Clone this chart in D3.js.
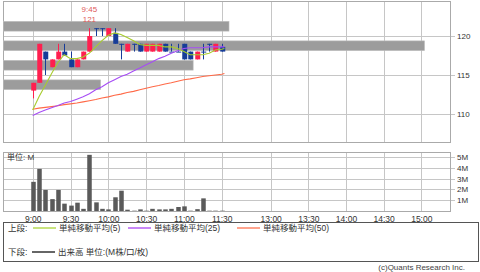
<!DOCTYPE html>
<html>
<head>
<meta charset="utf-8">
<script src="https://cdn.jsdelivr.net/npm/d3@7"></script>
<style>
body { margin: 0; background: #fff; }
svg { display: block; }
text { font-family: "Liberation Sans", Arial, "Noto Sans CJK JP", sans-serif; }
</style>
</head>
<body>
<div id="chart"></div>
<script>
// 5-minute bars, morning session
var bar_times = ['9:00','9:05','9:10','9:15','9:20','9:25','9:30','9:35','9:40','9:45',
  '9:50','9:55','10:00','10:05','10:10','10:15','10:20','10:25','10:30','10:35',
  '10:40','10:45','10:50','10:55','11:00','11:05','11:10','11:15','11:20','11:25','11:30']
var open  = [113,114,118,116,117,118,117,116,117,118,121,121,120,120.4,119,118,119,119,118,118,118,119,118,118,119,118,117,118,119,118,118.6]
var high  = [114,119,118,117,119,119,118,117,118,121,121,121,121,121,119,119,119,119,119,119,119,119,119,119,119,118,118,119,119,119,119]
var low   = [112,114,115,116,117,117.5,116,116,117,118,120,120,120,119,117,118,118,118,118,118,118,118,118,118,117,117,117,117,118,118,118]
var close = [114,119,117,117,118,117.5,116,117,118,120,121,121,121,119,119,119,119,118,119,119,119,118,118,118,117,117,118,118,119,119,118]
var volume = [2.7,3.9,1.95,1.1,1.95,0.68,0.5,0.77,0.2,5.2,0.8,0.2,0.15,1.27,1.88,0.12,0.03,0.15,0.03,0.2,
  0.15,0.15,0.2,0.37,0.43,0.03,0.17,1.17,0.03,0.03,0.03]

// moving averages (one extra point past the last bar)
var line_times = bar_times.concat(['11:35'])
var ma5  = [110.5,112.2,113.7,115.2,116.6,117.6,117.1,117.1,117.3,117.8,118.6,119.4,120.1,120.4,120.2,119.8,
  119.4,118.9,118.8,118.8,118.8,118.6,118.6,118.4,118.0,117.6,117.6,117.6,117.8,118.2,118.3,118.4]
var ma25 = [109.8,110.2,110.5,110.8,111.1,111.4,111.6,111.9,112.2,112.6,113.1,113.5,114.0,114.4,114.8,115.1,
  115.5,115.9,116.3,116.7,117.1,117.4,117.8,118.1,118.4,118.5,118.5,118.5,118.6,118.6,118.6,118.6]
var ma50 = [110.6,110.75,110.85,110.95,111.05,111.2,111.3,111.4,111.55,111.7,111.85,112.05,112.2,112.4,112.55,112.75,
  112.9,113.1,113.3,113.5,113.65,113.85,114.0,114.2,114.4,114.5,114.65,114.8,114.9,115.0,115.1,115.2]

// volume by price
var vp_price = [121.25, 118.75, 116.25, 113.75]
var vp_volume = [5.41, 10.1, 4.55, 2.33]

var time_ticks = ['9:00','9:30','10:00','10:30','11:00','11:30','13:00','13:30','14:00','14:30','15:00']
var price_ticks = [110, 115, 120]
var volume_ticks = [1, 2, 3, 4, 5]

var chart_width = 480
var chart_height = 272
var left = 3, right = 450
var top1 = 1, bottom1 = 142
var top2 = 152, bottom2 = 211

function toMin(t) {
  var p = t.split(':')
  return +p[0] * 60 + +p[1]
}

var svg = d3.select('#chart')
  .append('svg')
  .attr('width', chart_width)
  .attr('height', chart_height)

// lunch break is squeezed
var x_scale = d3.scaleLinear()
  .domain([540, 690, 780, 900])
  .range([32.7, 221.7, 270.7, 421.3])

var y_scale = d3.scaleLinear()
  .domain([110, 120])
  .range([114, 36])

var v_scale = d3.scaleLinear()
  .domain([0, 5])
  .range([bottom2, 157])

var vp_scale = d3.scaleLinear()
  .domain([0, d3.max(vp_volume)])
  .range([left, 424])

// panels and grid
function panel(y0, y1, yTicks, yScale, fmt) {
  var g = svg.append('g')
  g.selectAll('.vg')
    .data(time_ticks)
    .enter().append('line')
    .attr('x1', d => Math.round(x_scale(toMin(d))) + 0.5)
    .attr('x2', d => Math.round(x_scale(toMin(d))) + 0.5)
    .attr('y1', y0).attr('y2', y1)
    .attr('stroke', '#c6c6c6')
  g.selectAll('.hg')
    .data(yTicks)
    .enter().append('line')
    .attr('x1', left).attr('x2', right + 5)
    .attr('y1', d => Math.round(yScale(d)) + 0.5)
    .attr('y2', d => Math.round(yScale(d)) + 0.5)
    .attr('stroke', '#c6c6c6')
  g.append('rect')
    .attr('x', left + 0.5).attr('y', y0 + 0.5)
    .attr('width', right - left).attr('height', y1 - y0)
    .attr('fill', 'none').attr('stroke', '#aaa')
  g.selectAll('.yl')
    .data(yTicks)
    .enter().append('text')
    .attr('x', 457).attr('y', d => yScale(d) + 3)
    .attr('font-size', 8).attr('fill', '#333')
    .text(fmt)
  return g
}
panel(top1, bottom1, price_ticks, y_scale, d => d)
panel(top2, bottom2, volume_ticks, v_scale, d => d + 'M')

// volume by price bars
svg.selectAll('.vp')
  .data(vp_price)
  .enter().append('rect')
  .attr('x', left + 0.5)
  .attr('y', d => y_scale(d + 0.625))
  .attr('width', (d, i) => vp_scale(vp_volume[i]) - left)
  .attr('height', d => y_scale(d - 0.625) - y_scale(d + 0.625))
  .attr('fill', '#9c9c9c')
  .attr('stroke', '#bdbdbd')
  .attr('stroke-width', 0.6)

// candles
var up = '#ff1f4f', down = '#173c98'
var candle = svg.append('g')
bar_times.forEach(function(t, i) {
  var cx = x_scale(toMin(t))
  var col = close[i] > open[i] ? up : down
  candle.append('line')
    .attr('x1', Math.round(cx) + 0.5).attr('x2', Math.round(cx) + 0.5)
    .attr('y1', y_scale(high[i])).attr('y2', y_scale(low[i]))
    .attr('stroke', col)
  var yt = y_scale(Math.max(open[i], close[i]))
  var yb = y_scale(Math.min(open[i], close[i]))
  candle.append('rect')
    .attr('x', Math.round(cx) - 1.75)
    .attr('y', yt)
    .attr('width', 5)
    .attr('height', Math.max(1, yb - yt))
    .attr('fill', col)
})

// moving averages
var line = d3.line()
  .x((d, i) => x_scale(toMin(line_times[i])))
  .y(d => y_scale(d))

;[[ma50, '#ff6a48'], [ma25, '#a64cf5'], [ma5, '#a8cc2e']].forEach(function(s) {
  svg.append('path')
    .datum(s[0])
    .attr('fill', 'none')
    .attr('stroke', s[1])
    .attr('stroke-width', 1.1)
    .attr('d', line)
})

// high marker
var hi = d3.maxIndex(high)
svg.append('text')
  .attr('x', x_scale(toMin(bar_times[hi]))).attr('y', 12)
  .attr('text-anchor', 'middle').attr('font-size', 8).attr('fill', '#e05a5a')
  .text(bar_times[hi])
svg.append('text')
  .attr('x', x_scale(toMin(bar_times[hi]))).attr('y', 21.5)
  .attr('text-anchor', 'middle').attr('font-size', 8).attr('fill', '#e05a5a')
  .text(high[hi])

// volume bars
svg.selectAll('.vol')
  .data(volume)
  .enter().append('rect')
  .attr('x', (d, i) => Math.round(x_scale(toMin(bar_times[i]))) - 1.75)
  .attr('y', d => v_scale(d))
  .attr('width', 4.5)
  .attr('height', d => bottom2 - v_scale(d))
  .attr('fill', '#5a5a5a')

svg.append('text')
  .attr('x', 7).attr('y', 160)
  .attr('font-size', 8).attr('fill', '#333')
  .text('単位: M')

// time axis
var x_axis = d3.axisBottom(x_scale)
  .tickValues(time_ticks.map(toMin))
  .tickFormat((d, i) => time_ticks[i])
  .tickSize(0)
var xa = svg.append('g')
  .attr('transform', 'translate(0,' + (bottom2 + 2) + ')')
  .call(x_axis)
xa.select('.domain').remove()
xa.selectAll('text')
  .attr('font-size', 8.5).attr('fill', '#333')
  .attr('font-family', '"Liberation Sans", Arial, sans-serif')

// legend
svg.append('rect')
  .attr('x', 3.5).attr('y', 222.5)
  .attr('width', 475).attr('height', 39)
  .attr('fill', 'none').attr('stroke', '#555')

var leg1 = [['単純移動平均(5)', '#c2e070', 33], ['単純移動平均(25)', '#c27af7', 128], ['単純移動平均(50)', '#ff9a80', 237]]
svg.append('text').attr('x', 8).attr('y', 231).attr('font-size', 8.5).attr('fill', '#333').text('上段:')
leg1.forEach(function(l) {
  svg.append('line')
    .attr('x1', l[2]).attr('x2', l[2] + 23)
    .attr('y1', 228).attr('y2', 228)
    .attr('stroke', l[1]).attr('stroke-width', 1.8)
  svg.append('text')
    .attr('x', l[2] + 26).attr('y', 231)
    .attr('font-size', 8.5).attr('fill', '#333')
    .text(l[0])
})
svg.append('text').attr('x', 8).attr('y', 255).attr('font-size', 8.5).attr('fill', '#333').text('下段:')
svg.append('line')
  .attr('x1', 32).attr('x2', 55)
  .attr('y1', 252).attr('y2', 252)
  .attr('stroke', '#555').attr('stroke-width', 1.8)
svg.append('text')
  .attr('x', 58).attr('y', 255)
  .attr('font-size', 8.5).attr('fill', '#333')
  .text('出来高 単位:(M株/口/枚)')

svg.append('text')
  .attr('x', 465).attr('y', 270)
  .attr('text-anchor', 'end')
  .attr('font-size', 8).attr('fill', '#444')
  .text('(c)Quants Research Inc.')
</script>
</body>
</html>
